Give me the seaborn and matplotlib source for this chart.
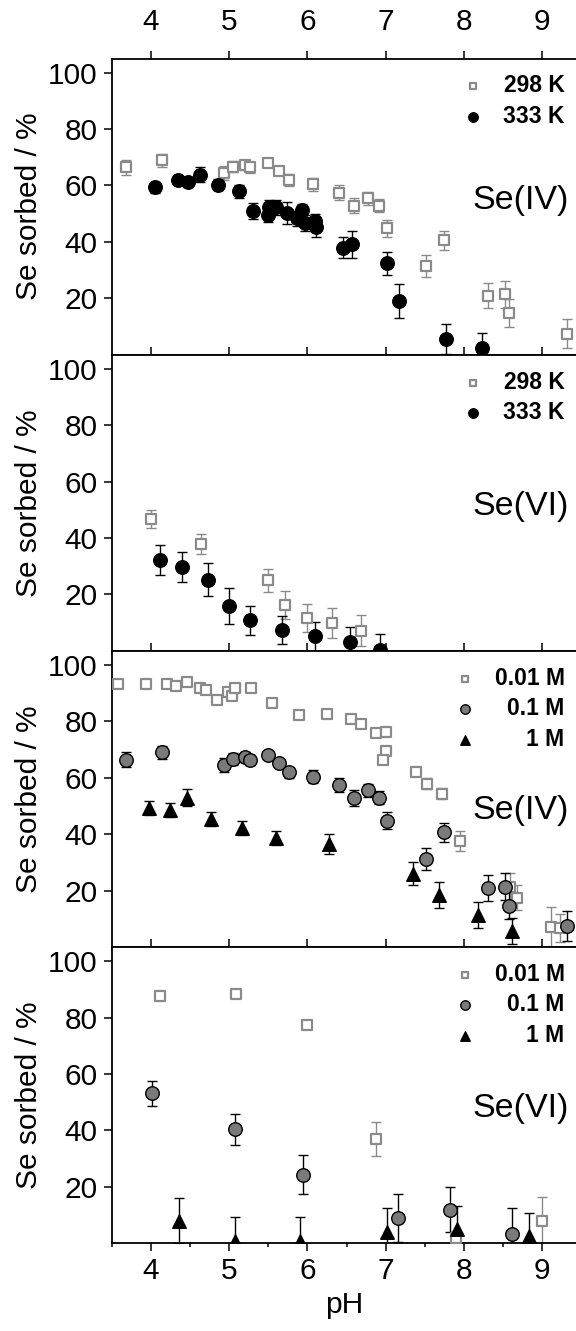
import numpy as np
import pandas as pd
import seaborn as sns
import matplotlib.pyplot as plt
from matplotlib.ticker import MultipleLocator

# Se(IV), 298 K (also the 0.1 M series of panel 3)
ph_iv_298 = [3.68, 4.14, 4.94, 5.05, 5.20, 5.26, 5.49, 5.64, 5.76, 6.07, 6.40,
             6.59, 6.77, 6.91, 7.02, 7.51, 7.74, 8.31, 8.52, 8.57, 9.31]
se_iv_298 = [66.4, 69.0, 64.4, 66.7, 67.3, 66.4, 68.1, 65.2, 61.9, 60.4, 57.5,
             52.9, 55.5, 52.9, 44.8, 31.3, 40.6, 20.9, 21.4, 14.7, 7.5]
err_iv_298 = [2.6, 2.3, 2.5, 2.0, 1.8, 1.8, 1.5, 1.5, 2.0, 2.3, 2.5,
              2.8, 2.3, 2.3, 3.1, 3.9, 3.4, 4.5, 4.7, 4.9, 5.2]

# Se(IV), 333 K
ph_iv_333 = [4.05, 4.35, 4.48, 4.63, 4.86, 5.13, 5.30, 5.50, 5.51, 5.60, 5.74,
             5.86, 5.93, 5.97, 6.10, 6.11, 6.46, 6.57, 7.02, 7.17, 7.77, 8.23]
se_iv_333 = [59.3, 61.9, 61.3, 63.8, 60.3, 58.0, 50.9, 49.7, 52.2, 52.2, 50.2,
             48.4, 51.4, 46.7, 47.3, 45.2, 38.0, 39.1, 32.4, 19.0, 5.6, 2.4]
err_iv_333 = [1.8, 1.5, 1.8, 2.7, 2.0, 2.3, 2.8, 2.8, 2.5, 2.5, 3.9,
              2.7, 2.0, 3.0, 2.5, 3.5, 3.6, 4.7, 4.0, 6.0, 5.2, 5.3]

# Se(VI), 298 K and 333 K
ph_vi_298 = [4.00, 4.64, 5.50, 5.71, 6.00, 6.31, 6.69]
se_vi_298 = [46.7, 37.9, 25.0, 16.3, 11.6, 9.9, 7.1]
err_vi_298 = [3.2, 3.5, 4.2, 5.0, 5.0, 5.3, 5.5]

ph_vi_333 = [4.11, 4.40, 4.73, 5.00, 5.27, 5.68, 6.10, 6.54, 6.93]
se_vi_333 = [32.2, 29.7, 25.2, 16.0, 10.8, 7.4, 5.1, 3.3, 0.2]
err_vi_333 = [5.2, 5.3, 5.8, 6.3, 5.0, 5.1, 5.0, 5.0, 5.8]

# Se(IV), ionic strength 0.01 M and 1 M
ph_iv_001 = [3.58, 3.94, 4.21, 4.32, 4.46, 4.63, 4.70, 4.84, 4.99, 5.04, 5.07,
             5.28, 5.55, 5.89, 6.25, 6.56, 6.68, 6.88, 7.00, 7.00, 6.97, 7.38,
             7.53, 7.72, 7.95, 8.59, 8.68, 9.11, 9.22]
se_iv_001 = [93.4, 93.1, 93.1, 92.7, 94.1, 92.0, 91.1, 87.6, 90.5, 88.9, 91.7,
             92.0, 86.4, 82.2, 82.6, 80.9, 79.1, 75.8, 76.2, 69.5, 66.4, 62.1,
             57.9, 54.3, 37.7, 21.3, 17.5, 7.1, 6.6]
err_iv_001 = [1.0, 1.0, 1.0, 1.0, 1.0, 1.0, 1.0, 1.0, 1.0, 1.0, 1.0,
              1.0, 1.0, 1.0, 1.0, 1.0, 1.0, 1.0, 1.0, 1.0, 1.0, 1.5,
              2.0, 2.0, 3.5, 5.0, 4.5, 7.0, 5.0]

ph_iv_1m = [3.97, 4.25, 4.46, 4.77, 5.17, 5.60, 6.28, 7.35, 7.68, 8.18, 8.61]
se_iv_1m = [49.2, 48.6, 53.0, 45.5, 42.1, 38.8, 36.6, 26.0, 18.4, 11.3, 5.7]
err_iv_1m = [2.5, 2.5, 3.0, 2.5, 2.5, 2.5, 3.5, 4.0, 4.5, 4.5, 4.5]

# Se(VI), ionic strength 0.01 M, 0.1 M and 1 M
ph_vi_001 = [4.12, 5.09, 5.99, 6.88, 7.90, 8.99]
se_vi_001 = [87.7, 88.3, 77.4, 36.8, 1.9, 8.0]
err_vi_001 = [0.8, 0.8, 1.5, 6.0, 2.0, 8.5]

ph_vi_01 = [4.02, 5.07, 5.94, 7.15, 7.82, 8.61]
se_vi_01 = [53.1, 40.4, 24.3, 8.8, 11.9, 3.3]
err_vi_01 = [4.5, 5.5, 7.0, 8.5, 8.0, 9.0]

ph_vi_1m = [4.36, 5.07, 5.91, 7.01, 7.91, 8.83]
se_vi_1m = [8.0, 0.9, 0.9, 3.9, 5.1, 2.7]
err_vi_1m = [8.0, 8.5, 8.5, 8.5, 8.0, 8.0]

y_ticks = [20, 40, 60, 80, 100]
x_ticks = [4, 5, 6, 7, 8, 9]

GRAY = "#8a8a8a"

sns.set_theme(style="ticks")
plt.rcParams['font.family'] = ['Liberation Sans', 'DejaVu Sans']
plt.rcParams['text.color'] = 'black'
plt.rcParams['axes.labelcolor'] = 'black'
plt.rcParams['xtick.color'] = 'black'
plt.rcParams['ytick.color'] = 'black'


def draw_series(ax, ph, val, err, marker, face, edge, ecolor, size, lw, label):
    df = pd.DataFrame({"pH": ph, "sorbed": val})
    ax.errorbar(ph, val, yerr=err, fmt="none", ecolor=ecolor, elinewidth=1,
                capsize=3.5, capthick=1, zorder=2)
    sns.scatterplot(data=df, x="pH", y="sorbed", ax=ax, marker=marker, s=size,
                    color=face, edgecolor=edge, linewidth=lw, label=label,
                    zorder=3)


def square(ax, ph, val, err, label):
    draw_series(ax, ph, val, err, "s", "white", GRAY, GRAY, 50, 1.6, label)


def right_align(fig, leg):
    fig.canvas.draw()
    texts = leg.get_texts()
    widths = [t.get_window_extent().width for t in texts]
    for t, w in zip(texts, widths):
        t.set_position((max(widths) - w, 0))


fig, axes = plt.subplots(4, 1, sharex=True, figsize=(5.76, 13.31), dpi=100)
fig.subplots_adjust(left=0.194, right=1.0, top=0.956, bottom=0.066, hspace=0)

# panel 1: Se(IV) temperature
ax = axes[0]
square(ax, ph_iv_298, se_iv_298, err_iv_298, "298 K")
draw_series(ax, ph_iv_333, se_iv_333, err_iv_333, "o", "black", "black",
            "black", 95, 1, "333 K")

# panel 2: Se(VI) temperature
ax = axes[1]
square(ax, ph_vi_298, se_vi_298, err_vi_298, "298 K")
draw_series(ax, ph_vi_333, se_vi_333, err_vi_333, "o", "black", "black",
            "black", 95, 1, "333 K")

# panel 3: Se(IV) ionic strength
ax = axes[2]
square(ax, ph_iv_001, se_iv_001, err_iv_001, "0.01 M")
draw_series(ax, ph_iv_298, se_iv_298, err_iv_298, "o", "#7a7a7a", "black",
            "black", 95, 1, "0.1 M")
draw_series(ax, ph_iv_1m, se_iv_1m, err_iv_1m, "^", "black", "black",
            "black", 95, 1, "1 M")

# panel 4: Se(VI) ionic strength
ax = axes[3]
square(ax, ph_vi_001, se_vi_001, err_vi_001, "0.01 M")
draw_series(ax, ph_vi_01, se_vi_01, err_vi_01, "o", "#7a7a7a", "black",
            "black", 95, 1, "0.1 M")
draw_series(ax, ph_vi_1m, se_vi_1m, err_vi_1m, "^", "black", "black",
            "black", 95, 1, "1 M")

species = ["Se(IV)", "Se(VI)", "Se(IV)", "Se(VI)"]
species_y = [0.52, 0.488, 0.46, 0.455]

for i, ax in enumerate(axes):
    ax.set_xlim(3.5, 9.43)
    ax.set_ylim(0, 105)
    ax.set_yticks(y_ticks)
    ax.set_xticks(x_ticks)
    ax.xaxis.set_minor_locator(MultipleLocator(0.5))
    ax.spines['right'].set_visible(False)
    for s in ['left', 'top', 'bottom']:
        ax.spines[s].set_linewidth(1.3)
        ax.spines[s].set_color("black")
    ax.tick_params(axis='both', which='major', direction='out', length=6,
                   width=1.1, color="black", labelcolor="black",
                   labelsize=21.5, pad=4)
    ax.tick_params(axis='x', which='major', top=True, bottom=True)
    ax.tick_params(axis='x', which='minor', direction='out', length=3,
                   width=1.1, bottom=(i > 0), top=False, color="black")
    ax.set_ylabel("Se sorbed / %", fontsize=21.5, labelpad=4, color="black")
    ax.set_xlabel("")
    ax.text(0.985, species_y[i], species[i], transform=ax.transAxes,
            ha='right', va='center', fontsize=24.5, color="black")

    leg = ax.legend(loc='upper right', bbox_to_anchor=(1.0, 0.985),
                    frameon=False, borderpad=0, handlelength=0.8,
                    handletextpad=0.9, labelspacing=0.33, markerscale=0.7,
                    prop={'weight': 'bold', 'size': 16.5})
    right_align(fig, leg)

axes[0].tick_params(axis='x', which='major', labeltop=True, pad=10)
axes[-1].tick_params(axis='x', which='major', labelbottom=True, pad=4)
axes[-1].set_xlabel("pH", fontsize=21.5, labelpad=4, color="black")

fig.savefig("out.png", dpi=100)
